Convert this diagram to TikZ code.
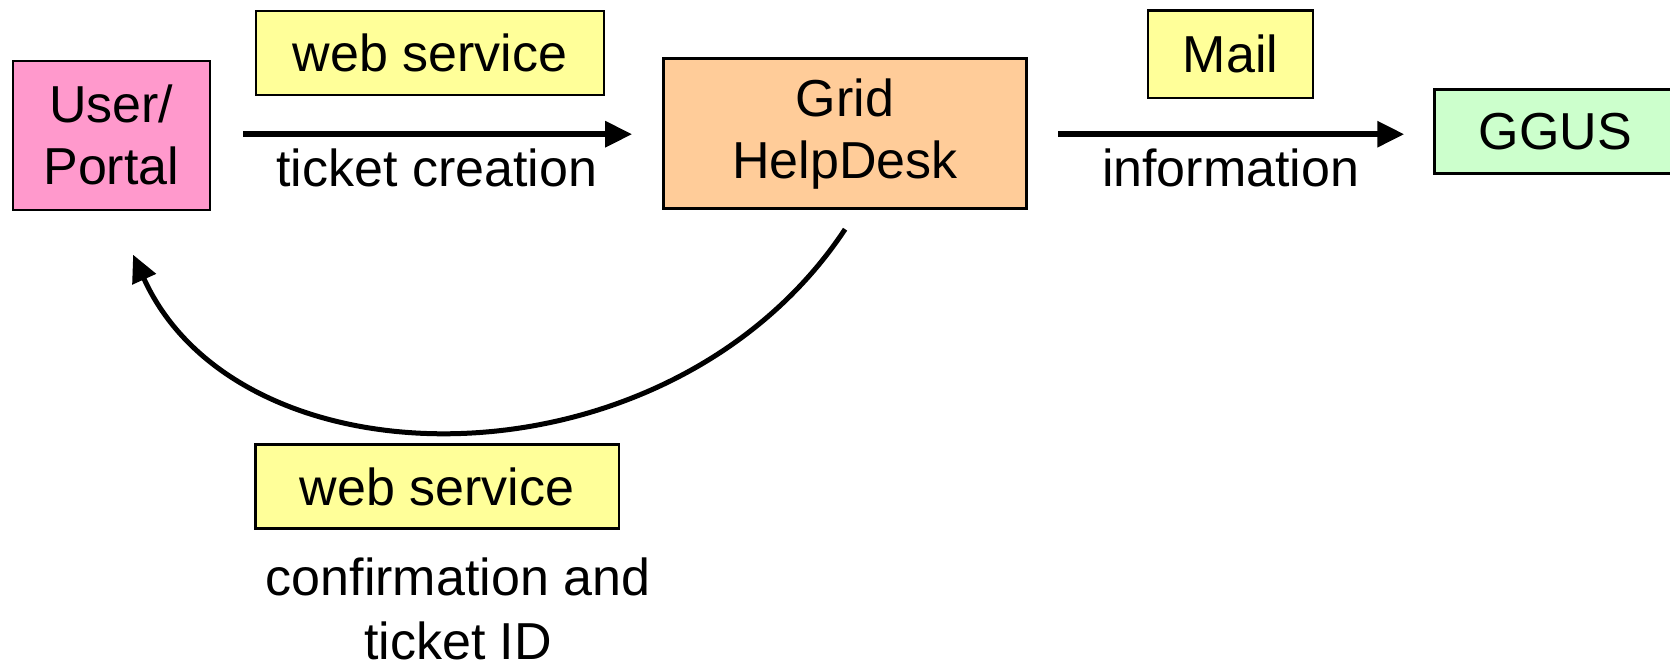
\documentclass[tikz,border=0pt]{standalone}
\usepackage{fontspec}
\setmainfont{Liberation Sans}
\usetikzlibrary{positioning, arrows.meta}
\definecolor{userbg}{HTML}{FF99CC}
\definecolor{deskbg}{HTML}{FFCC99}
\definecolor{ggusbg}{HTML}{CCFFCC}
\definecolor{notebg}{HTML}{FFFF99}

\begin{document}
\begin{tikzpicture}[x=0.5pt, y=-0.5pt, font=\fontsize{26}{31}\selectfont,
	box/.style = {draw, line width=1.3pt, inner sep=0pt, align=center},
	note/.style = {box, fill=notebg, minimum height=42pt},
	lab/.style = {inner sep=0pt, align=center},
	flow/.style = {line width=3pt, -{Triangle[length=13.5pt, width=12.5pt]}}]
	\useasboundingbox (0,0) rectangle (1670,665);
	\node[box, fill=userbg, minimum width=98.5pt, minimum height=74.5pt] (user) at (111.3,135.3) {User/\\Portal};
	\node[box, fill=deskbg, minimum width=181.6pt, minimum height=75pt] (desk) at (845.1,133.7) {Grid\\HelpDesk};
	\node[box, fill=ggusbg, minimum width=120.7pt, minimum height=42pt] (ggus) at (1555.3,131.5) {GGUS};
	\node[note, minimum width=174pt] (ws1) at (430,53) {web service};
	\node[note, minimum width=82.5pt, minimum height=43.7pt] (mail) at (1230.5,54.4) {Mail};
	\node[note, minimum width=181.6pt] (ws2) at (437.2,486.5) {web service};
	\node[lab, anchor=north, font=\fontsize{26}{32}\selectfont] (confirm) at (458,557) {confirmation and\\ticket ID};
	\coordinate (back) at ([yshift=-9.6pt]desk.south);
	\coordinate (userback) at ([xshift=10.9pt, yshift=-21.8pt]user.south);
	\draw[flow, shorten <=16pt, shorten >=15pt] (user.east |- 0,134.2) -- (desk.west |- 0,134.2)
		node[lab, midway, below=6pt] (creation) {ticket creation};
	\draw[flow, shorten <=15pt, shorten >=14.5pt] (desk.east |- 0,134.2) -- (ggus.west |- 0,134.2)
		node[lab, midway, below=6pt] (info) {information};
	\draw[flow, line width=2.5pt] (back) .. controls +(-175,264) and +(108,238.5) .. (userback);
\end{tikzpicture}
\end{document}
